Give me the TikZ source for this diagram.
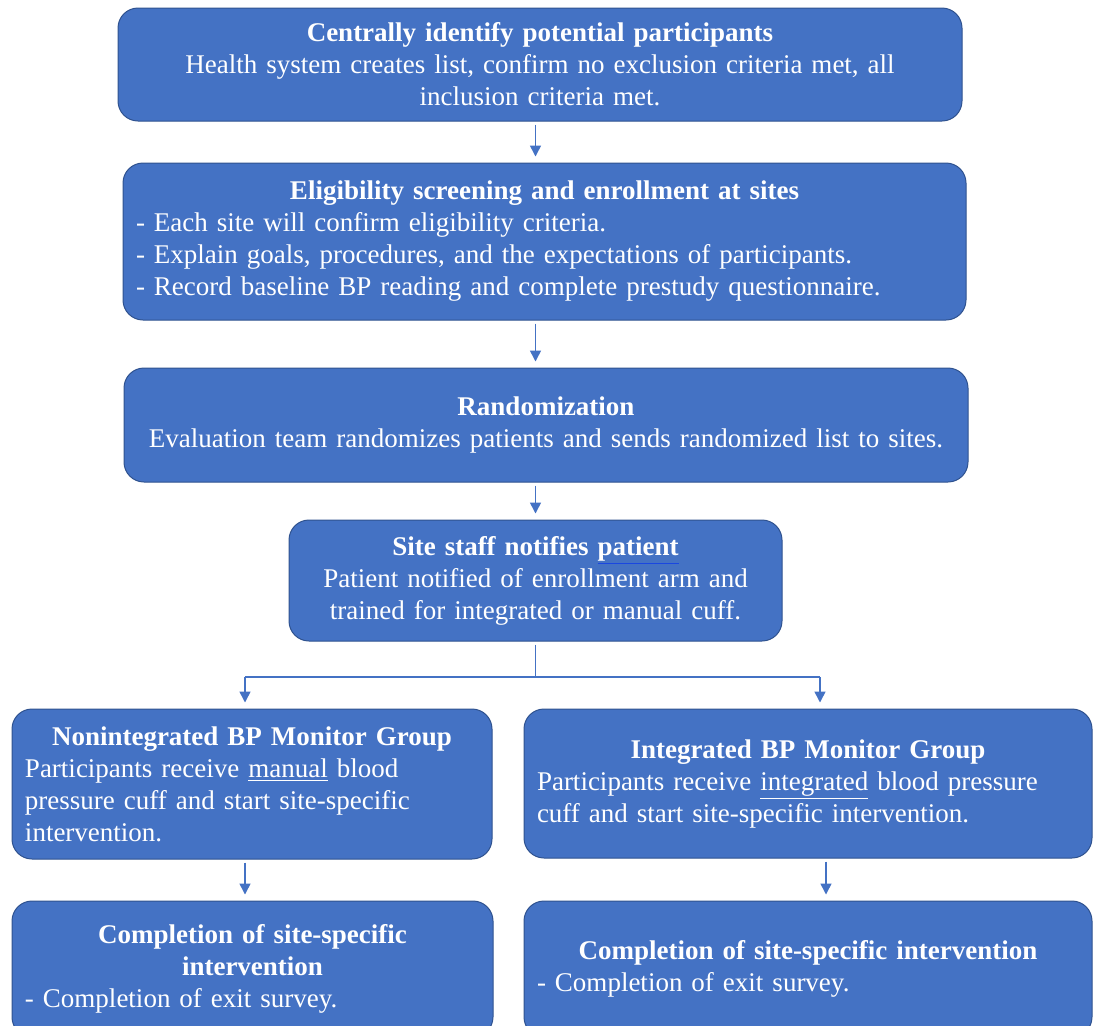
\documentclass[tikz,border=0pt]{standalone}
\usepackage{fontspec}
\setmainfont{Liberation Serif}
\usetikzlibrary{arrows.meta}
\definecolor{boxblue}{HTML}{4472C4}
\definecolor{boxedge}{HTML}{2F528F}
\definecolor{lineblue}{HTML}{4472C4}
\definecolor{spellblue}{HTML}{1A47E0}
\newcommand{\boxhead}[1]{{\centering\bfseries #1\par}}
\newcommand{\spellmark}[1]{{\color{spellblue}\underline{\textcolor{white}{#1}}}}
\tikzset{
  flowbox/.style = {draw=boxedge, fill=boxblue, line width=0.5pt,
    rounded corners=10pt, text=white, inner xsep=6.5pt, inner ysep=2pt,
    font=\fontsize{13.5}{16}\selectfont},
  box_c/.style = {flowbox, align=center},
  box_l/.style = {flowbox, align=left},
  flowline/.style = {draw=lineblue, line width=0.75pt},
  flowarrow/.style = {flowline, -{Triangle[length=5.5pt,width=5.5pt]},
    shorten <=1.5pt, shorten >=3pt}
}

\begin{document}
\begin{tikzpicture}[x=0.5pt,y=-0.5pt]
\clip (0,0) rectangle (1093,1025);
\node [box_c, text width=409pt, minimum height=56.5pt] (ident) at (540,64.5)
  {\textbf{Centrally identify potential participants}\\
   Health system creates list, confirm no exclusion criteria met, all\\
   inclusion criteria met.};
\node [box_l, text width=408.5pt, minimum height=78.5pt] (screen) at (544.5,241.5)
  {\boxhead{Eligibility screening and enrollment at sites}
   - Each site will confirm eligibility criteria.\\
   - Explain goals, procedures, and the expectations of participants.\\
   - Record baseline BP reading and complete prestudy questionnaire.};
\node [box_c, text width=409pt, minimum height=57pt] (random) at (546,425)
  {\textbf{Randomization}\\
   Evaluation team randomizes patients and sends randomized list to sites.};
\node [box_c, text width=233.5pt, minimum height=60.5pt] (notify) at (535.5,580.5)
  {\textbf{Site staff notifies \spellmark{patient}}\\
   Patient notified of enrollment arm and\\
   trained for integrated or manual cuff.};
\node [box_l, text width=227pt, minimum height=75pt] (nonint) at (252,784)
  {\boxhead{Nonintegrated BP Monitor Group}
   Participants receive \underline{manual} blood\\
   pressure cuff and start site-specific\\
   intervention.};
\node [box_l, text width=271pt, minimum height=74.5pt] (integ) at (808,783.5)
  {\boxhead{Integrated BP Monitor Group}
   Participants receive \underline{integrated} blood pressure\\
   cuff and start site-specific intervention.};
\node [box_l, text width=227.5pt, minimum height=68pt] (nonend) at (252.5,969)
  {\boxhead{Completion of site-specific\\ intervention}
   - Completion of exit survey.};
\node [box_l, text width=271pt, minimum height=68pt] (integend) at (808,969)
  {\boxhead{Completion of site-specific intervention}
   - Completion of exit survey.};

% connectors
\coordinate (fork) at (535.5,677);
\coordinate (forkL) at (245,677);
\coordinate (forkR) at (820,677);
\coordinate (armR) at (826,880);
\draw [flowarrow] (ident.south -| notify) -- (screen.north -| notify);
\draw [flowarrow] (screen.south -| notify) -- (random.north -| notify);
\draw [flowarrow] (random.south -| notify) -- (notify.north);
\draw [flowline, shorten <=1.5pt] (notify.south) -- (fork);
\draw [flowline] (forkL) -- (forkR);
\draw [flowarrow, shorten <=0pt] (forkL) -- (forkL |- nonint.north);
\draw [flowarrow, shorten <=0pt] (forkR) -- (forkR |- integ.north);
\draw [flowarrow] (nonint.south -| forkL) -- (nonend.north -| forkL);
\draw [flowarrow] (integ.south -| armR) -- (integend.north -| armR);
\end{tikzpicture}
\end{document}
